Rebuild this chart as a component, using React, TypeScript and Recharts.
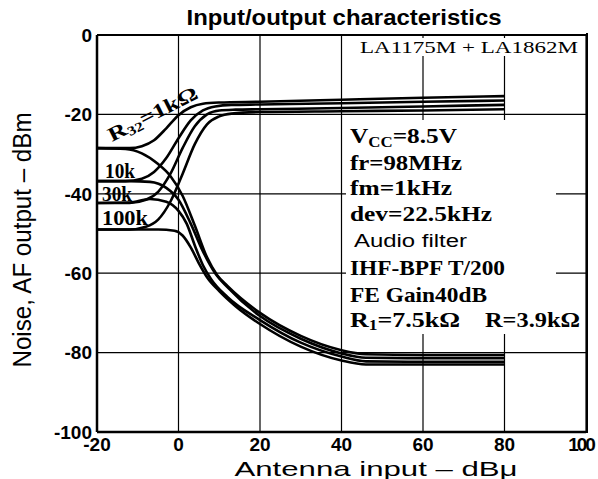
import React from 'react';
import { LineChart, Line, XAxis, YAxis, CartesianGrid } from 'recharts';

const xTicks = [-20, 0, 20, 40, 60, 80, 100];
const yTicks = [-100, -80, -60, -40, -20, 0];

// Output (signal) curves for R32 = 1k, 10k, 30k, 100k
const signal1k: [number, number][] = [[-20, -28.5], [-12, -28.5], [-9, -28], [-6, -26.5], [-3, -23.5], [0, -20.2], [3, -18.2], [6, -17.3], [10, -17], [20, -16.8], [40, -16.3], [60, -15.8], [80, -15.4]];
const signal10k: [number, number][] = [[-20, -36.8], [-13, -36.8], [-9, -36.2], [-6, -34.5], [-3, -31], [0, -26], [3, -21.5], [6, -19], [9, -18], [13, -17.6], [20, -17.5], [40, -17.2], [60, -16.8], [80, -16.5]];
const signal30k: [number, number][] = [[-20, -42.3], [-12, -42.3], [-8, -41.5], [-5, -39.5], [-2, -35], [1, -28.5], [4, -23], [7, -20], [10, -19], [14, -18.8], [20, -18.7], [40, -18.4], [60, -18], [80, -17.6]];
const signal100k: [number, number][] = [[-20, -49], [-12, -49], [-8, -48.3], [-5, -46.5], [-2, -42], [1, -35], [4, -27.5], [7, -22.5], [10, -20.5], [13, -19.8], [20, -19.4], [40, -19.2], [60, -19], [80, -18.7]];

// Noise curves
const noise1k: [number, number][] = [[-20, -28.5], [-13, -28.7], [-9, -29.8], [-5, -32.5], [-2, -35.5], [1, -40.5], [4, -48], [7, -56], [9.5, -60.5], [12, -63.2], [20, -70], [30, -75.8], [40, -79.4], [46, -80.4], [60, -80.6], [80, -80.6]];
const noise10k: [number, number][] = [[-20, -36.8], [-12, -36.8], [-7, -37], [-3, -38.5], [0, -41.5], [3, -47.5], [6, -54.5], [9, -60], [12, -63.5], [20, -70.8], [30, -76.5], [40, -80.2], [46, -81.3], [60, -81.4], [80, -81.4]];
const noise30k: [number, number][] = [[-20, -42.3], [-12, -42.2], [-7, -41.3], [-3, -42], [0, -44.3], [2, -47.5], [4, -53], [6, -58], [8, -61.5], [12, -66], [20, -71.8], [30, -77.5], [40, -81], [46, -82.2], [60, -82.3], [80, -82.3]];
const noise100k: [number, number][] = [[-20, -49], [-5, -49], [-1, -49.3], [1, -50.5], [3, -53.5], [5, -57.5], [7, -61], [10, -64.5], [14, -68.3], [20, -72.8], [30, -78.5], [40, -82], [46, -83], [60, -83], [80, -83]];

const seriesList = [signal1k, signal10k, signal30k, signal100k, noise1k, noise10k, noise30k, noise100k];
const toPoints = (s: [number, number][]) => s.map(([x, y]) => ({ x, y }));

const serif = 'Liberation Serif';
const sans = 'Liberation Sans';

const XTick = (props: any) => {
  const { x, y, payload } = props;
  const last = payload.value === 100;
  return (
    <text
      x={last ? x - 5 : x}
      y={y}
      dy="0.71em"
      textAnchor="middle"
      fill="#000"
      fontSize={19}
      fontWeight="bold"
      fontFamily={sans}
      letterSpacing={last ? -2 : 0}
    >
      {payload.value}
    </text>
  );
};

export default function App() {
  return (
    <div style={{ position: 'absolute', left: 0, top: 0, width: 598, height: 479, background: '#fff' }}>
      <LineChart width={598} height={479} margin={{ top: 35, right: 12, left: 0, bottom: 0 }}>
        <CartesianGrid stroke="#000" strokeWidth={1.2} />
        <XAxis
          type="number"
          dataKey="x"
          domain={[-20, 100]}
          ticks={xTicks}
          allowDataOverflow
          height={47}
          tickSize={0}
          tickMargin={6}
          axisLine={{ stroke: '#000', strokeWidth: 2.5 }}
          tickLine={false}
          tick={<XTick />}
        />
        <YAxis
          type="number"
          dataKey="y"
          domain={[-100, 0]}
          ticks={yTicks}
          allowDataOverflow
          width={97}
          tickSize={0}
          tickMargin={5}
          axisLine={{ stroke: '#000', strokeWidth: 2.5 }}
          tickLine={false}
          tick={{ fill: '#000', fontSize: 19, fontWeight: 'bold', fontFamily: sans }}
        />
        {seriesList.map((s, i) => (
          <Line
            key={i}
            data={toPoints(s)}
            dataKey="y"
            type="monotone"
            stroke="#000"
            strokeWidth={2.6}
            dot={false}
            activeDot={false}
            isAnimationActive={false}
          />
        ))}
      </LineChart>
      <svg width={598} height={479} style={{ position: 'absolute', left: 0, top: 0, pointerEvents: 'none' }}>
        <rect x={586} y={33} width={2} height={400} fill="#000" />
        <rect x={97} y={34} width={490} height={2} fill="#000" />
        <rect x={356} y={38} width={226} height={18} fill="#fff" />
        <rect x={346} y={120} width={210} height={186} fill="#fff" />
        <rect x={346} y={306} width={237} height={28} fill="#fff" />
        <text x={344} y={25} textAnchor="middle" fontFamily={sans} fontWeight="bold" fontSize={22} textLength={315} lengthAdjust="spacingAndGlyphs" fill="#000">Input/output characteristics</text>
        <text x={376} y={476} textAnchor="middle" fontFamily={sans} fontSize={21} textLength={283} lengthAdjust="spacingAndGlyphs" fill="#000">Antenna input – dBμ</text>
        <text transform="translate(31,240) rotate(-90)" textAnchor="middle" fontFamily={sans} fontSize={26} textLength={255} lengthAdjust="spacingAndGlyphs" fill="#000">Noise, AF output – dBm</text>
        <g fontFamily={serif} fontWeight="bold" fill="#000">
          <text x={360} y={53} fontSize={17} fontWeight="normal" textLength={218} lengthAdjust="spacingAndGlyphs">LA1175M + LA1862M</text>
          <text transform="translate(112,142) rotate(-27)" fontSize={20} textLength={98} lengthAdjust="spacingAndGlyphs">R<tspan fontSize={13} dy={3}>32</tspan><tspan dy={-3}>=1kΩ</tspan></text>
          <text x={105} y={178} fontSize={20} textLength={30} lengthAdjust="spacingAndGlyphs">10k</text>
          <text x={102} y={201} fontSize={20} textLength={30} lengthAdjust="spacingAndGlyphs">30k</text>
          <text x={102} y={225} fontSize={20} textLength={46} lengthAdjust="spacingAndGlyphs">100k</text>
          <text x={350} y={143} fontSize={21} textLength={107} lengthAdjust="spacingAndGlyphs">V<tspan fontSize={14} dy={4}>CC</tspan><tspan dy={-4}>=8.5V</tspan></text>
          <text x={350} y={170} fontSize={21} textLength={112} lengthAdjust="spacingAndGlyphs">fr=98MHz</text>
          <text x={350} y={195} fontSize={21} textLength={102} lengthAdjust="spacingAndGlyphs">fm=1kHz</text>
          <text x={350} y={221} fontSize={21} textLength={142} lengthAdjust="spacingAndGlyphs">dev=22.5kHz</text>
          <text x={354} y={247} fontSize={18} fontWeight="normal" fontFamily={sans} textLength={113} lengthAdjust="spacingAndGlyphs">Audio filter</text>
          <text x={350} y={275} fontSize={21} textLength={155} lengthAdjust="spacingAndGlyphs">IHF-BPF T/200</text>
          <text x={350} y={302} fontSize={21} textLength={137} lengthAdjust="spacingAndGlyphs">FE Gain40dB</text>
          <text x={350} y={327} fontSize={21} textLength={110} lengthAdjust="spacingAndGlyphs">R<tspan fontSize={14} dy={3}>1</tspan><tspan dy={-3}>=7.5kΩ</tspan></text>
          <text x={485} y={327} fontSize={21} textLength={95} lengthAdjust="spacingAndGlyphs">R=3.9kΩ</text>
        </g>
      </svg>
    </div>
  );
}
